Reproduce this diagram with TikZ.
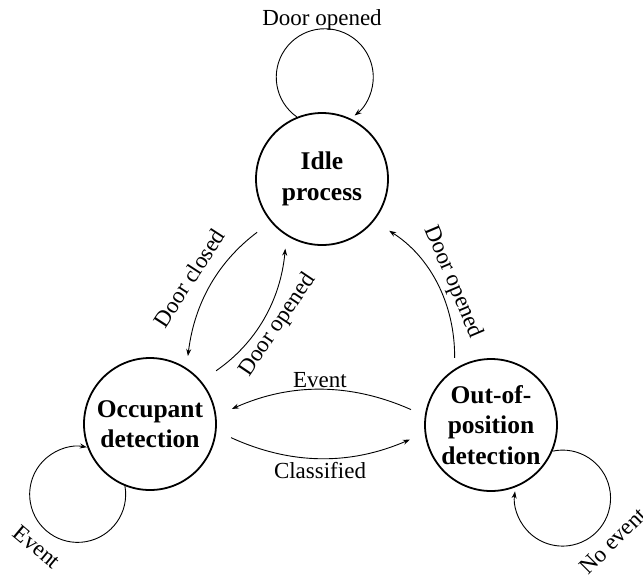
\documentclass[tikz,border=0pt]{standalone}
\usepackage{fontspec}
\setmainfont{Liberation Serif}
\usetikzlibrary{arrows.meta}
\begin{document}
\begin{tikzpicture}[x=1pt,y=1pt,
  stateN/.style={circle,draw,line width=1.8pt,minimum size=132pt,inner sep=0pt,align=center,
    font=\fontsize{25.5}{30.5}\selectfont\bfseries},
  edge/.style={line width=0.9pt,-{Stealth[length=7pt,width=5pt]}},
  lbl/.style={font=\fontsize{23}{27}\selectfont,inner sep=0pt}]
\useasboundingbox (0,0) rectangle (643,-579);
\node[stateN] (idle) at (322,-179) {Idle\\process};
\node[stateN] (occ) at (150,-424) {Occupant\\detection};
\node[stateN] (oop) at (491,-425) {Out-of-\\position\\detection};

% self loops
\draw[edge] (idle.112) arc[start angle=235,end angle=-52,radius=48.5];
\draw[edge] (occ.248) arc[start angle=10,end angle=-281,radius=48];
\draw[edge] (oop.337) arc[start angle=102,end angle=-188,radius=48];

% transitions
\draw[edge,shorten <=17pt,shorten >=12pt] (idle.220) to[bend right=23] (occ.57);
\draw[edge,shorten <=18pt,shorten >=13pt] (occ.40) to[bend right=25] (idle.238);
\draw[edge,shorten <=11pt,shorten >=18pt] (oop.123) to[bend right=29] (idle.321);
\draw[edge,shorten <=15pt,shorten >=17pt] (oop.172) to[bend right=24] (occ.7);
\draw[edge,shorten <=16pt,shorten >=16pt] (occ.354) to[bend right=24] (oop.187);

% labels
\node[lbl] (lidle) at (322,-20) {Door opened};
\node[lbl,rotate=57] (lclosed) at (189,-278) {Door closed};
\node[lbl,rotate=56] (lopen1) at (278,-325) {Door opened};
\node[lbl,rotate=-67] (lopen2) at (453,-282) {Door opened};
\node[lbl] (levent) at (320,-380) {Event};
\node[lbl] (lclass) at (320,-471) {Classified};
\node[lbl,rotate=-40] (levent2) at (37,-547) {Event};
\node[lbl,rotate=45] (lnoev) at (613,-541) {No event};
\end{tikzpicture}
\end{document}
